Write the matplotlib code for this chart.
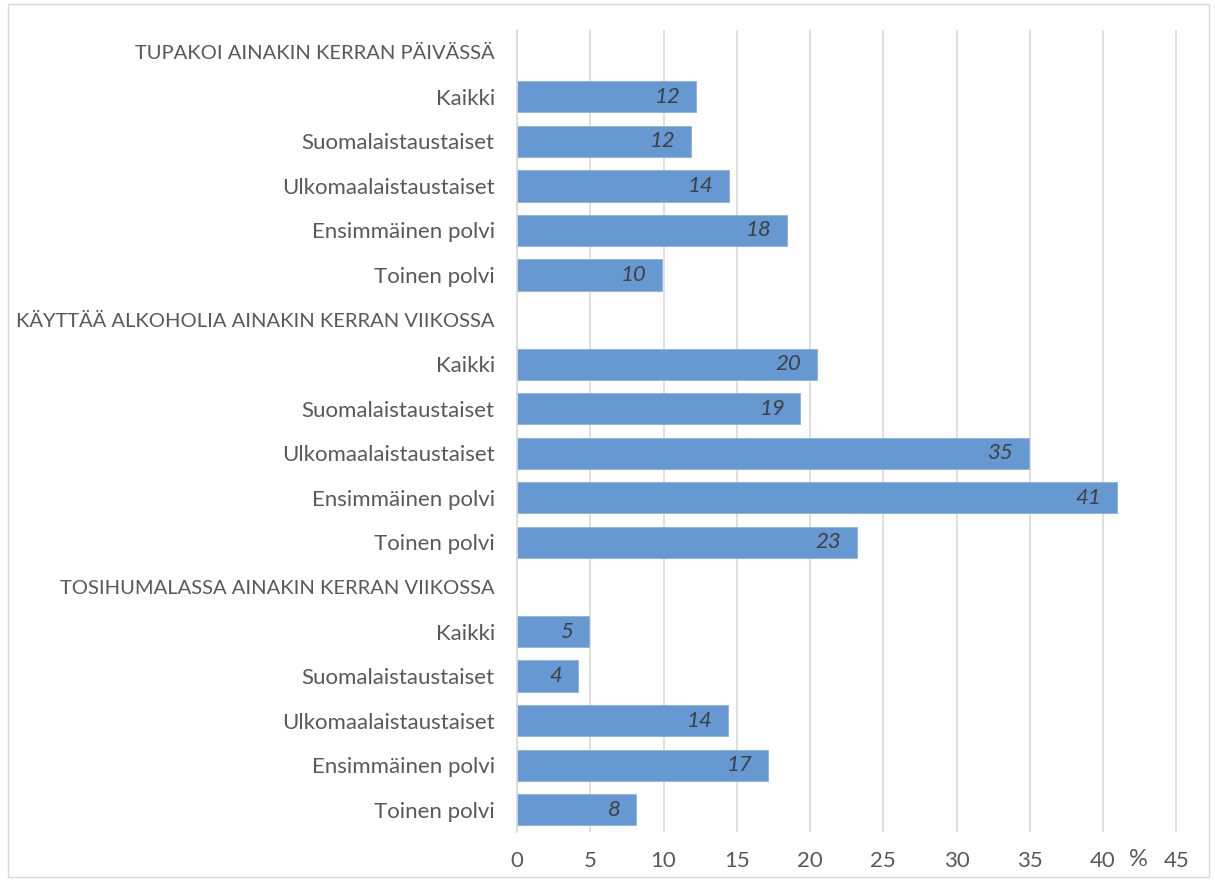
import matplotlib
matplotlib.use("Agg")
import matplotlib.pyplot as plt
from matplotlib.patches import FancyBboxPatch

categories = [
    "TUPAKOI AINAKIN KERRAN PÄIVÄSSÄ",
    "Kaikki", "Suomalaistaustaiset", "Ulkomaalaistaustaiset", "Ensimmäinen polvi", "Toinen polvi",
    "KÄYTTÄÄ ALKOHOLIA AINAKIN KERRAN VIIKOSSA",
    "Kaikki", "Suomalaistaustaiset", "Ulkomaalaistaustaiset", "Ensimmäinen polvi", "Toinen polvi",
    "TOSIHUMALASSA AINAKIN KERRAN VIIKOSSA",
    "Kaikki", "Suomalaistaustaiset", "Ulkomaalaistaustaiset", "Ensimmäinen polvi", "Toinen polvi",
]
values = [
    None, 12.2, 11.9, 14.45, 18.4, 9.9,
    None, 20.45, 19.35, 34.95, 40.95, 23.2,
    None, 4.9, 4.15, 14.4, 17.1, 8.1,
]
value_labels = [
    "", "12", "12", "14", "18", "10",
    "", "20", "19", "35", "41", "23",
    "", "5", "4", "14", "17", "8",
]
xticks = [0, 5, 10, 15, 20, 25, 30, 35, 40, 45]

font = "Lato"
txt = "#595959"
fs = 16
W, H = 1215, 881
fig = plt.figure(figsize=(W / 100, H / 100), dpi=100)
fig.patch.set_facecolor("white")
fig.patches.append(FancyBboxPatch((8 / W, 4 / H), 1 - 14 / W, 1 - 8 / H,
                                  boxstyle="square,pad=0", transform=fig.transFigure,
                                  fill=False, edgecolor="#d9d9d9", linewidth=1.0))

ax = fig.add_axes([517 / W, 49 / H, 660 / W, 802 / H])
n = len(categories)
for i, (v, lab) in enumerate(zip(values, value_labels)):
    if v is None:
        continue
    ax.barh(i, v, height=0.7, color="#6699d2", edgecolor="#8ab2dd", linewidth=0.6, zorder=3)
    ax.text(v - 1.05, i, lab, ha="right", va="center", fontsize=fs, style="italic",
            color="#404040", family=font, zorder=4)

ax.set_ylim(n - 0.5, -0.5)
ax.set_xlim(0, 45.05)
ax.set_yticks(range(n))
ax.set_yticklabels(categories, fontsize=fs, color=txt, family=font)
for t, v in zip(ax.get_yticklabels(), values):
    if v is None:
        t.set_fontsize(14.5)
ax.set_xticks(xticks)
ax.set_xticklabels([str(t) for t in xticks], fontsize=fs, color=txt, family=font)
ax.tick_params(axis="y", length=0, pad=16)
ax.tick_params(axis="x", length=0, pad=14)
ax.grid(axis="x", color="#d9d9d9", linewidth=1.2, zorder=0)
for s in ["top", "right", "bottom"]:
    ax.spines[s].set_visible(False)
ax.spines["left"].set_color("#d9d9d9")
ax.spines["left"].set_linewidth(1.2)
ax.spines["left"].set_zorder(5)

fig.text(1138 / W, 1 - 859 / H, "%", fontsize=17, color=txt, family=font,
         ha="center", va="center")

fig.savefig("out.png", dpi=100)
